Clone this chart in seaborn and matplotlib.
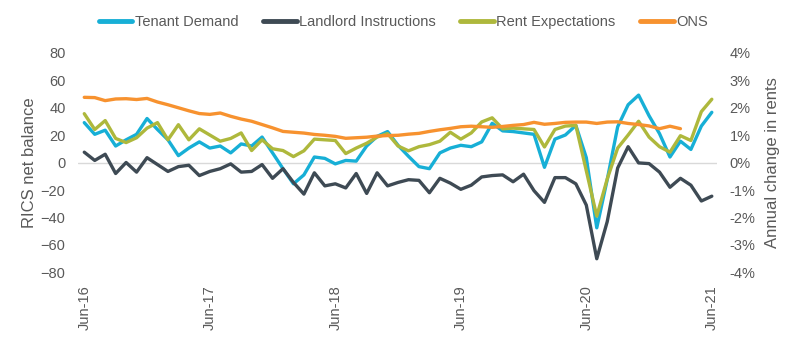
import matplotlib
matplotlib.use("Agg")
import numpy as np
import pandas as pd
import matplotlib.pyplot as plt
import seaborn as sns
from matplotlib.lines import Line2D
from matplotlib.ticker import FuncFormatter

# ---- data (monthly, Jun-16 .. Jun-21) ----
month_idx = list(range(61))
tick_pos = [0, 12, 24, 36, 48, 60]
tick_labels = ["Jun-16", "Jun-17", "Jun-18", "Jun-19", "Jun-20", "Jun-21"]

tenant_demand = [29, 20.5, 23.5, 12, 16.5, 20.5, 32, 24, 16.5, 5,
                 10.5, 15, 10.5, 12, 7, 13.5, 12, 18.5, 7, -4.5,
                 -15.5, -9, 4, 3, -1, 1.5, 1, 12, 19, 22.5,
                 12.5, 4.5, -3, -4.5, 7, 10.5, 12.5, 11.5, 15, 28.5,
                 23, 22.5, 21.5, 20.5, -3.5, 17, 20, 27, 3.5, -47.5,
                 -12.5, 26, 42, 49, 34, 21, 4, 15.5, 9.5, 26.5,
                 36.5]
landlord_instructions = [7.5, 1.5, 6, -8, 0, -7, 3.5, -1.5, -6.5, -3,
                         -2, -9.5, -6.5, -4.5, -1, -7, -6.5, -1.5, -11.5, -4.5,
                         -14.5, -23, -7.5, -17, -15.5, -18.5, -8, -22.5, -7.5, -17,
                         -14.5, -12.5, -13, -22, -11.5, -15, -19.5, -16.5, -10.5, -9.5,
                         -9, -14, -8.5, -20.5, -29, -11, -11, -15.5, -31, -70,
                         -43, -4, 11.5, -0.3, -0.8, -7, -18, -11.5, -16.5, -28,
                         -24.5]
rent_expectations = [35.5, 24, 30.5, 17.5, 14.5, 18, 25, 29, 16.5, 27.5,
                     16.5, 24.5, 20, 15.5, 17.5, 21.5, 8.7, 16.5, 10, 8.7,
                     4.3, 8.5, 17, 16.5, 16, 6.5, 10.5, 14, 18.5, 21,
                     12, 8.5, 11.5, 13, 15.5, 22, 17, 21.5, 29.5, 32.5,
                     24.5, 25, 24.5, 24, 11.3, 24, 26.5, 27, -6, -39,
                     -12, 10.5, 20, 30, 18.5, 11.5, 7.5, 19.5, 16, 37,
                     46]
ons_pct = [2.37, 2.36, 2.25, 2.31, 2.32, 2.29, 2.33, 2.2, 2.1, 1.99,
           1.88, 1.78, 1.75, 1.8, 1.68, 1.58, 1.5, 1.38, 1.26, 1.13,
           1.1, 1.07, 1.02, 0.99, 0.95, 0.88, 0.9, 0.92, 0.96, 0.98,
           0.99, 1.03, 1.06, 1.13, 1.19, 1.24, 1.3, 1.32, 1.3, 1.28,
           1.31, 1.35, 1.38, 1.46, 1.39, 1.42, 1.46, 1.47, 1.47, 1.42,
           1.47, 1.48, 1.42, 1.38, 1.33, 1.23, 1.32, 1.23]

names = ["Tenant Demand", "Landlord Instructions", "Rent Expectations", "ONS"]
colors = ["#17AFD6", "#3E4A54", "#AEB83C", "#F7922F"]
text_color = "#595959"

df_left = pd.DataFrame({
    "month": month_idx * 3,
    "value": tenant_demand + landlord_instructions + rent_expectations,
    "series": [names[0]] * 61 + [names[1]] * 61 + [names[2]] * 61,
})
df_ons = pd.DataFrame({"month": month_idx[:len(ons_pct)], "value": ons_pct})

sns.set_theme(style="white")
plt.rcParams["font.family"] = ["Liberation Sans", "DejaVu Sans"]

fig = plt.figure(figsize=(8, 3.37), dpi=100)
ax = fig.add_axes([0.0975, 0.1914, 0.7988, 0.6528])
ax.axhline(0, color="#D9D9D9", lw=1.0, zorder=0)

sns.lineplot(data=df_left, x="month", y="value", hue="series",
             palette=colors[:3], hue_order=names[:3], linewidth=2.4,
             ax=ax, legend=False)
ax2 = ax.twinx()
sns.lineplot(data=df_ons, x="month", y="value", color=colors[3],
             linewidth=2.4, ax=ax2, legend=False)

ax.set_xlim(-0.6, 60.5)
ax.set_ylim(-80, 80)
ax2.set_ylim(-4, 4)
ax.set_yticks(range(-80, 81, 20))
ax2.set_yticks(range(-4, 5, 1))
ax2.yaxis.set_major_formatter(FuncFormatter(lambda v, p: f"{v:.0f}%"))
ax.set_xticks(tick_pos)
ax.set_xticklabels(tick_labels, rotation=90)

for a in (ax, ax2):
    for s in a.spines.values():
        s.set_visible(False)
    a.grid(False)
    a.set_xlabel("")
    a.set_ylabel("")
ax.tick_params(axis="y", length=0, pad=9, labelsize=10.5, labelcolor=text_color)
ax.tick_params(axis="x", length=0, pad=9, labelsize=10.5, labelcolor=text_color)
ax2.tick_params(axis="y", length=0, pad=9, labelsize=10.5, labelcolor=text_color)

fig.text(30 / 800, 1 - 162.5 / 337, "RICS net balance", rotation=90,
         ha="center", va="center", fontsize=12, color=text_color)
fig.text(773 / 800, 1 - 162.5 / 337, "Annual change in rents", rotation=90,
         ha="center", va="center", fontsize=12, color=text_color)

handles = [Line2D([0], [0], color=c, lw=3.5) for c in colors]
fig.legend(handles, names, loc="center", bbox_to_anchor=(0.504, 0.935),
           ncol=4, frameon=False, fontsize=10.5, handlelength=2.3,
           handletextpad=0.15, columnspacing=1.7, labelcolor=text_color)

fig.savefig("out.png", dpi=100)
